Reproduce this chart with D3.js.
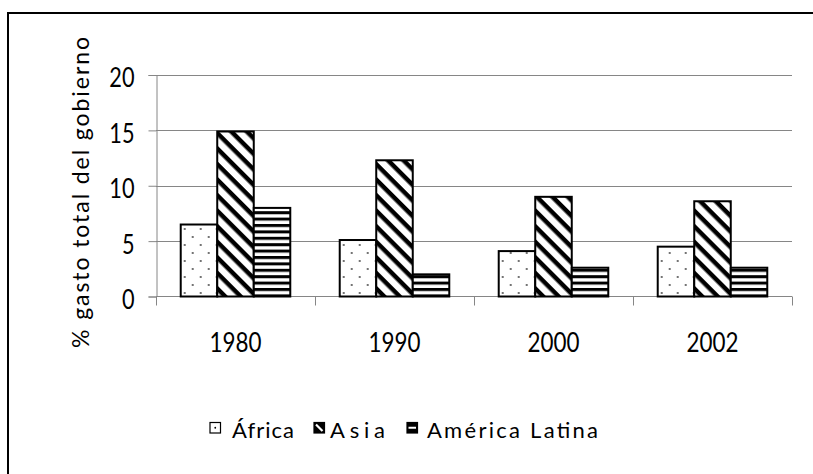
<!DOCTYPE html>
<html>
<head>
<meta charset="utf-8">
<script src="https://cdn.jsdelivr.net/npm/d3@7"></script>
<style>
  html, body { margin: 0; padding: 0; background: #fff; }
  svg { display: block; }
  text { font-family: Lato, "Open Sans", "Liberation Sans", Arial, sans-serif; fill: #000; }
</style>
</head>
<body>
<svg id="chart" width="813" height="474"></svg>
<script>
const years = ["1980", "1990", "2000", "2002"];
const seriesNames = ["África", "Asia", "América Latina"];
const africa = [6.5, 5.1, 4.1, 4.5];
const asia = [14.9, 12.3, 9.0, 8.6];
const latam = [8.0, 2.0, 2.6, 2.6];
const yTicks = [0, 5, 10, 15, 20];
const yTitle = "% gasto total del gobierno";

(function () {
const seriesValues = [africa, asia, latam];
const patternIds = ["pDots", "pDiag", "pHoriz"];
const digitW = 12.6;

const svg = d3.select("#chart");
const defs = svg.append("defs");

// dotted pattern
const pd = defs.append("pattern").attr("id", "pDots").attr("patternUnits", "userSpaceOnUse")
  .attr("width", 16).attr("height", 16);
pd.append("rect").attr("width", 16).attr("height", 16).attr("fill", "#fff");
pd.append("circle").attr("cx", 4).attr("cy", 5).attr("r", 0.9).attr("fill", "#333");
pd.append("circle").attr("cx", 12).attr("cy", 13).attr("r", 0.9).attr("fill", "#333");

// diagonal "\" stripes
const pg = defs.append("pattern").attr("id", "pDiag").attr("patternUnits", "userSpaceOnUse")
  .attr("width", 11).attr("height", 11).attr("patternTransform", "rotate(45)");
pg.append("rect").attr("width", 11).attr("height", 11).attr("fill", "#fff");
pg.append("rect").attr("width", 11).attr("height", 4.5).attr("fill", "#000");

// horizontal stripes
const ph = defs.append("pattern").attr("id", "pHoriz").attr("patternUnits", "userSpaceOnUse")
  .attr("width", 10).attr("height", 6.4);
ph.append("rect").attr("width", 10).attr("height", 6.4).attr("fill", "#fff");
ph.append("rect").attr("width", 10).attr("height", 3).attr("fill", "#000");

// outer frame
svg.append("rect").attr("x", 8).attr("y", 13).attr("width", 1000).attr("height", 1000)
  .attr("fill", "none").attr("stroke", "#000").attr("stroke-width", 2);

const pLeft = 156, pRight = 792, pTop = 75, pBottom = 296.5;

const y = d3.scaleLinear().domain([0, 20]).range([pBottom, pTop]);
const x0 = d3.scaleBand().domain(years).range([pLeft, pRight])
  .paddingInner(0.311).paddingOuter(0.1555);
const x1 = d3.scaleBand().domain(seriesNames).range([0, x0.bandwidth()]);

// gridlines
svg.append("g").selectAll("line").data(yTicks.filter(d => d > 0)).join("line")
  .attr("x1", pLeft).attr("x2", pRight)
  .attr("y1", d => Math.round(y(d)) + 0.5).attr("y2", d => Math.round(y(d)) + 0.5)
  .attr("stroke", "#868686").attr("stroke-width", 1);

// y axis
const yAxis = d3.axisLeft(y).tickValues(yTicks).tickSize(8).tickPadding(14);
const gy = svg.append("g").attr("transform", `translate(${pLeft + 0.5},0)`).call(yAxis);
gy.select(".domain").attr("stroke", "#868686");
gy.selectAll(".tick line").attr("stroke", "#868686");
gy.selectAll(".tick text").attr("font-size", 27).attr("dy", "0.44em")
  .attr("font-family", null)
  .style("font-family", 'Lato, "Open Sans", "Liberation Sans", Arial, sans-serif')
  .attr("textLength", d => String(d).length * digitW)
  .attr("lengthAdjust", "spacingAndGlyphs");

// x axis: category boundary ticks
const gx = svg.append("g");
gx.append("line").attr("x1", pLeft).attr("x2", pRight).attr("y1", pBottom).attr("y2", pBottom)
  .attr("stroke", "#868686");
const half = (x0.step() - x0.bandwidth()) / 2;
const boundaries = years.map(d => x0(d) - half).concat([pRight]);
gx.selectAll("line.b").data(boundaries).join("line").attr("class", "b")
  .attr("x1", d => Math.round(d) + 0.5).attr("x2", d => Math.round(d) + 0.5)
  .attr("y1", pBottom).attr("y2", pBottom + 9).attr("stroke", "#868686");
gx.selectAll("text").data(years).join("text")
  .attr("x", d => x0(d) + x0.bandwidth() / 2 - 26).attr("y", 352)
  .attr("font-size", 27)
  .attr("textLength", d => d.length * 13).attr("lengthAdjust", "spacingAndGlyphs")
  .text(d => d);

// bars
const groups = svg.append("g").selectAll("g").data(years).join("g")
  .attr("transform", d => `translate(${x0(d)},0)`);
groups.selectAll("rect").data((d, i) => seriesNames.map((s, j) => ({ s, j, v: seriesValues[j][i] })))
  .join("rect")
  .attr("x", d => x1(d.s)).attr("width", x1.bandwidth())
  .attr("y", d => y(d.v)).attr("height", d => y(0) - y(d.v))
  .attr("fill", d => `url(#${patternIds[d.j]})`)
  .attr("stroke", "#000").attr("stroke-width", 2);

// y title
svg.append("text")
  .attr("transform", "translate(89,37) rotate(-90)")
  .attr("x", -311)
  .attr("font-size", 23)
  .attr("textLength", 311).attr("lengthAdjust", "spacing")
  .text(yTitle);

// legend
const legendX = [210, 314, 407];
const legendTextX = [232, 330, 427];
const legendTextLen = [62, 55, 171];
const lg = svg.append("g");
seriesNames.forEach((s, j) => {
  const bx = legendX[j], by = 422.5, w = 10.5, h = 10.5;
  const g = lg.append("g");
  if (j === 0) {
    g.append("rect").attr("x", bx).attr("y", by).attr("width", w).attr("height", h)
      .attr("fill", "#fff").attr("stroke", "#000").attr("stroke-width", 1.2);
    g.append("circle").attr("cx", bx + w / 2).attr("cy", by + h / 2).attr("r", 0.9).attr("fill", "#000");
  } else if (j === 1) {
    g.append("rect").attr("x", bx).attr("y", by).attr("width", w).attr("height", h)
      .attr("fill", "#000").attr("stroke", "#000").attr("stroke-width", 1.2);
    g.append("line").attr("x1", bx + 2).attr("y1", by + 2).attr("x2", bx + w - 2).attr("y2", by + h - 2)
      .attr("stroke", "#fff").attr("stroke-width", 2.2);
  } else {
    g.append("rect").attr("x", bx).attr("y", by).attr("width", w).attr("height", h)
      .attr("fill", "#000").attr("stroke", "#000").attr("stroke-width", 1.2);
    g.append("line").attr("x1", bx + 1.5).attr("y1", by + h / 2).attr("x2", bx + w - 1.5).attr("y2", by + h / 2)
      .attr("stroke", "#fff").attr("stroke-width", 2);
  }
  g.append("text").attr("x", legendTextX[j]).attr("y", 438).attr("font-size", 22)
    .attr("textLength", legendTextLen[j]).attr("lengthAdjust", "spacing").text(s);
});
})();
</script>
</body>
</html>
